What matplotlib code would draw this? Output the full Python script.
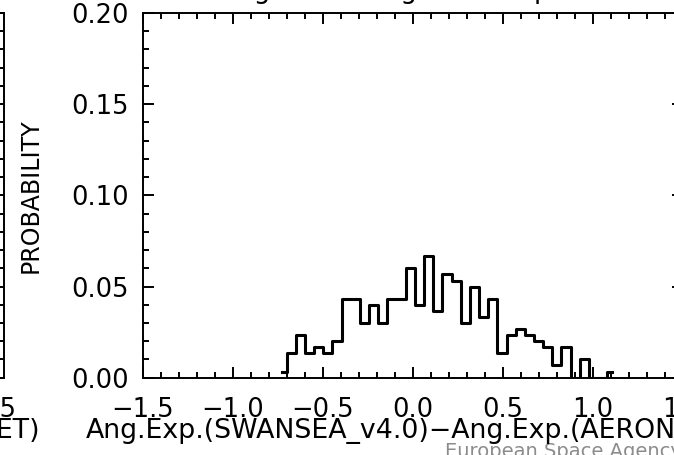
import numpy as np
import matplotlib
matplotlib.use("Agg")
import matplotlib.pyplot as plt
from matplotlib.ticker import MultipleLocator

# Histogram data --------------------------------------------------------------------------------------------------------
bin_start = -0.7276      # centre of first bin
bin_width = 0.0509
prob = [0.0033, 0.0133, 0.0233, 0.0133, 0.0167, 0.0133, 0.0200, 0.0433, 0.0433, 0.0300,
        0.0400, 0.0300, 0.0433, 0.0433, 0.0600, 0.0400, 0.0667, 0.0367, 0.0567, 0.0533,
        0.0300, 0.0500, 0.0333, 0.0433, 0.0133, 0.0233, 0.0267, 0.0233, 0.0200, 0.0167,
        0.0067, 0.0167, 0.0000, 0.0100, 0.0000, 0.0000, 0.0033]

x_ticks = [-1.5, -1.0, -0.5, 0.0, 0.5, 1.0, 1.5]
x_tick_labels = ["\u22121.5", "\u22121.0", "\u22120.5", "0.0", "0.5", "1.0", "1.5"]
y_ticks = [0.00, 0.05, 0.10, 0.15, 0.20]
y_tick_labels = ["0.00", "0.05", "0.10", "0.15", "0.20"]

title = "Histogram of Angstrom Exponent"
xlabel = "Ang.Exp.(SWANSEA_v4.0)\u2212Ang.Exp.(AERONET)"
ylabel = "PROBABILITY"
left_xlabel = "Ang.Exp.(AERONET)"
left_last_tick = "1.5"
watermark = "European Space Agency"

# Figure setup ----------------------------------------------------------------------------------------------------------
W, H = 674, 455
fig = plt.figure(figsize=(W / 100, H / 100), dpi=100)


def px_box(x0, y0, x1, y1):
    # image pixels (origin top-left) -> figure fraction rect
    return [x0 / W, 1 - y1 / H, (x1 - x0) / W, (y1 - y0) / H]


def style_axes(a):
    for s in a.spines.values():
        s.set_linewidth(1.4)
    a.set_ylim(0, 0.2)
    a.yaxis.set_major_locator(MultipleLocator(0.05))
    a.yaxis.set_minor_locator(MultipleLocator(0.01))
    a.tick_params(which="both", direction="in", top=True, right=True, width=1.4)
    a.tick_params(which="major", length=7.9)
    a.tick_params(which="minor", length=4.0)


# part of the neighbouring panel on the left
ghost = fig.add_axes(px_box(-536, 13, 4, 377.7))
style_axes(ghost)
ghost.set_xticks([])
ghost.tick_params(labelleft=False, labelbottom=False)
fig.text(16 / W, 1 - 417 / H, left_last_tick, ha="right", va="baseline", fontsize=18.5)
fig.text(40 / W, 1 - 438 / H, left_xlabel, ha="right", va="baseline", fontsize=19.3)

# main panel
ax = fig.add_axes(px_box(143, 13, 683, 377.7))
style_axes(ax)
ax.set_xlim(-1.5, 1.5)
ax.set_xticks(x_ticks, labels=x_tick_labels)
ax.xaxis.set_minor_locator(MultipleLocator(0.1))
ax.set_yticks(y_ticks, labels=y_tick_labels)
ax.tick_params(axis="x", which="major", pad=14, labelsize=18.5)
ax.tick_params(axis="y", which="major", pad=10, labelsize=18.5)

centers = bin_start + bin_width * np.arange(len(prob))
ax.step(centers, prob, where="mid", color="black", linewidth=2.2)

ax.set_xlabel(xlabel, fontsize=19.3)
ax.xaxis.label.set_verticalalignment("baseline")
ax.xaxis.set_label_coords(0.4806, (377.7 - 438) / 364.7)
ax.set_ylabel(ylabel, fontsize=17)
ax.yaxis.set_label_coords(-0.185, 0.5)

# title (mostly cut off at the top of the picture)
fig.text(186 / W, 1 + 1.5 / H, title, ha="left", va="baseline", fontsize=19)

fig.text(445 / W, 1 - 457 / H, watermark, ha="left", va="baseline", fontsize=14,
         color="#8c8c8c", zorder=-1)

fig.savefig("out.png", dpi=100)
